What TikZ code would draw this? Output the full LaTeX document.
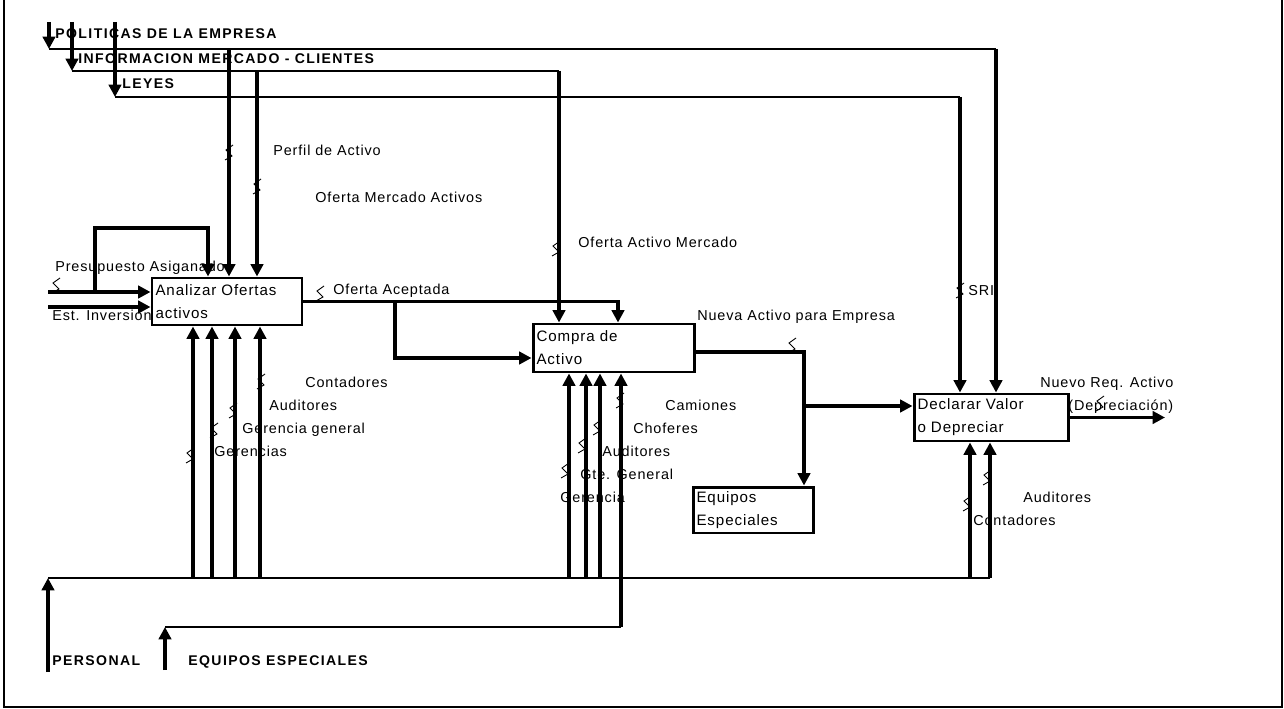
\documentclass[tikz,border=0pt]{standalone}
\usepackage{fontspec}
\setmainfont{Liberation Sans}[LetterSpace=6]
\newfontfamily\headfont{Liberation Sans}[LetterSpace=10]
\usetikzlibrary{arrows.meta, calc}
\tikzset{
  squig/.pic={
    \draw[line width=0.5pt] (-4,8) -- (3,4) -- (-3,-2) -- (4,-7);
  }
}

\begin{document}
\begin{tikzpicture}[x=0.02cm, y=-0.02cm,
    flow/.style={line width=2.1pt, -{Triangle[length=7pt,width=7pt]}},
    bus/.style={line width=0.6pt},
    box/.style={draw, line width=1.7pt, align=left, inner xsep=2pt, inner ysep=0pt, font=\fontsize{8.6}{13}\selectfont},
    lbl/.style={anchor=west, inner sep=0pt, text height=6pt, text depth=0pt, font=\fontsize{8.2}{10}\selectfont},
    head/.style={lbl, font=\headfont\bfseries\fontsize{8}{10}\selectfont}
  ]
  \useasboundingbox (0,0) rectangle (1284,709);
  \draw[line width=1.2pt] (4,0) -- (4,707) -- (1282,707) -- (1282,0);

  % activities
  \node[box, text width=2.86cm, minimum height=0.94cm] (analizar) at (227,301.5) {Analizar Ofertas\\activos};
  \node[box, text width=3.08cm, minimum height=0.96cm] (compra) at (613.5,348) {Compra de\\Activo};
  \node[box, text width=2.94cm, minimum height=0.94cm] (declarar) at (991,417.5) {Declarar Valor\\o Depreciar};
  \node[box, text width=2.26cm, minimum height=0.92cm] (equipos) at (753,510) {Equipos\\Especiales};

  % controls
  \node[head] (politicas) at (55,33) {POLITICAS DE LA EMPRESA};
  \node[head] (informacion) at (78,58) {INFORMACION MERCADO - CLIENTES};
  \node[head] (leyes) at (122,83) {LEYES};

  \coordinate (pol0) at (49,22);  \coordinate (pol1) at (49,49);  \coordinate (polDn) at (996,49);
  \coordinate (inf0) at (72,22);  \coordinate (inf1) at (72,71);  \coordinate (infDn) at (559,71);
  \coordinate (ley0) at (115,22); \coordinate (ley1) at (115,97); \coordinate (leyDn) at (960,97);
  \draw[flow] (pol0) -- (pol1);
  \draw[flow] (inf0) -- (inf1);
  \draw[flow] (ley0) -- (ley1);
  \draw[bus] (pol1) -- (polDn);
  \draw[bus] (inf1) -- (infDn);
  \draw[bus] (ley1) -- (leyDn);
  \draw[flow] (polDn) -- (polDn |- declarar.north);
  \draw[flow] (leyDn) -- (leyDn |- declarar.north);
  \draw[flow] (infDn) -- (infDn |- compra.north);

  \coordinate (perfil) at (229,49);
  \coordinate (ofMerc) at (257,71);
  \draw[flow] (perfil) -- (perfil |- analizar.north);
  \draw[flow] (ofMerc) -- (ofMerc |- analizar.north);

  % inputs
  \coordinate (presIn) at (48,292);
  \coordinate (presJ) at (95,292);
  \coordinate (presTop) at (208,228);
  \coordinate (estIn) at (48,307);
  \draw[flow] (presIn) -- (presIn -| analizar.west);
  \draw[flow] (presJ) |- (presTop) -- (presTop |- analizar.north);
  \draw[flow] (estIn) -- (estIn -| analizar.west);

  % outputs
  \coordinate (acepDn) at (618,301.5);
  \coordinate (acepJ) at (395,301.5);
  \draw[flow] (analizar.east) -- (acepDn) -- (acepDn |- compra.north);
  \draw[flow] (acepJ) |- ([yshift=-0.2cm]compra.west);

  \coordinate (nuevaJ) at (804,352);
  \coordinate (declIn) at (804,406);
  \draw[flow] ([yshift=-0.08cm]compra.east) -- (nuevaJ) -- (nuevaJ |- equipos.north);
  \draw[flow] (declIn) -- (declIn -| declarar.west);

  \coordinate (reqOut) at (1165,417.5);
  \draw[flow] (declarar.east) -- (reqOut);

  % mechanisms
  \coordinate (perIn) at (48,672);
  \coordinate (perJ) at (48,578);
  \coordinate (perEnd) at (990,578);
  \draw[flow] (perIn) -- (perJ);
  \draw[bus] (perJ) -- (perEnd);
  \foreach \x in {193,212,235,260} {
    \draw[flow] (\x,578) -- (\x,578 |- analizar.south);
  }
  \foreach \x in {569,586,600} {
    \draw[flow] (\x,578) -- (\x,578 |- compra.south);
  }
  \foreach \x in {970,990} {
    \draw[flow] (\x,578) -- (\x,578 |- declarar.south);
  }
  \coordinate (eqIn) at (165,670);
  \coordinate (eqJ) at (165,627);
  \coordinate (eqUp) at (621,627);
  \draw[flow] (eqIn) -- (eqJ);
  \draw[bus] (eqJ) -- (eqUp);
  \draw[flow] (eqUp) -- (eqUp |- compra.south);

  \node[head] (personal) at (52,660) {PERSONAL};
  \node[head] (eqEsp) at (188,660) {EQUIPOS ESPECIALES};

  % labels
  \node[lbl] (lPres) at (55,266) {Presupuesto Asiganado};
  \node[lbl] (lEst) at (52,315) {Est. Inversion};
  \node[lbl] (lPerfil) at (273,150) {Perfil de Activo};
  \node[lbl] (lOfMerc) at (315,197) {Oferta Mercado Activos};
  \node[lbl] (lAcep) at (333,289) {Oferta Aceptada};
  \node[lbl] (lOfAct) at (578,242) {Oferta Activo Mercado};
  \node[lbl] (lNueva) at (697,315) {Nueva Activo para Empresa};
  \node[lbl] (lSri) at (968,290) {SRI};
  \node[lbl] (lReq) at (1040,382) {Nuevo Req. Activo};
  \node[lbl] (lDep) at (1068,405) {(Depreciación)};

  \node[lbl] (lCont) at (305,382) {Contadores};
  \node[lbl] (lAud) at (269,405) {Auditores};
  \node[lbl] (lGg) at (242,428) {Gerencia general};
  \node[lbl] (lGer) at (214,451) {Gerencias};

  \node[lbl] (lCam) at (665,405) {Camiones};
  \node[lbl] (lChof) at (633,428) {Choferes};
  \node[lbl] (lAud2) at (602,451) {Auditores};
  \node[lbl] (lGte) at (580,474) {Gte. General};
  \node[lbl] (lGer2) at (560,497) {Gerencia};

  \node[lbl] (lAud3) at (1023,497) {Auditores};
  \node[lbl] (lCont3) at (973,520) {Contadores};

  % squiggles
  \foreach \p in {(56,285),(229,152),(257,186),(320,293),(556,248),(792,345),(960,290),(1100,403),
                  (261,381),(233,410),(214,430),(190,455),
                  (620,400),(597,427),(582,445),(565,470),
                  (987,477),(967,503)} {
    \pic at \p {squig};
  }

\end{tikzpicture}
\end{document}
